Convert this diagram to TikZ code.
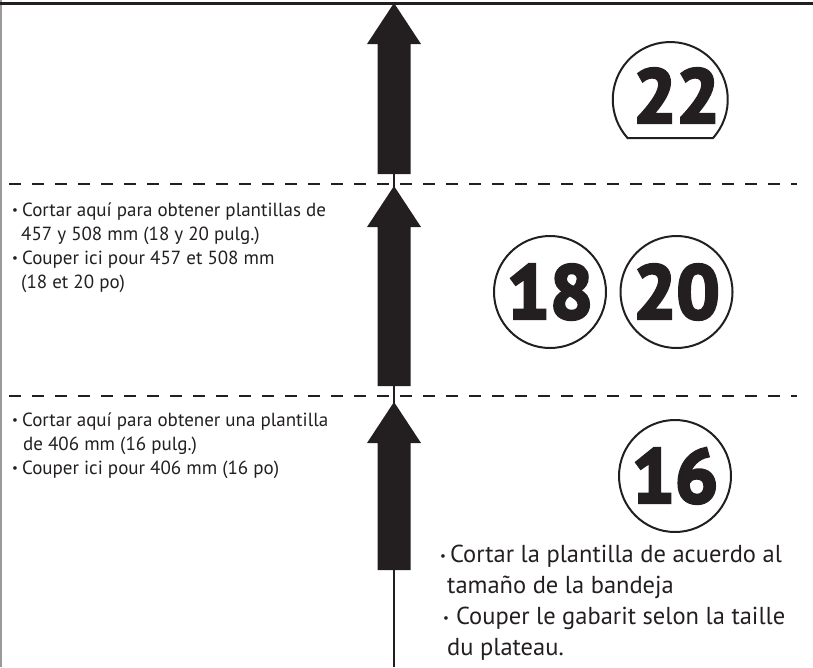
\documentclass[tikz,border=0pt]{standalone}
\usepackage{fontspec}
\setmainfont{PT Sans}
\newfontfamily\numfont{PT Sans}[UprightFont={* Bold}, FakeBold=4]
\definecolor{ink}{HTML}{231F20}
\definecolor{edge}{HTML}{9A9A9A}
\newcommand{\bul}{\raisebox{0.1em}{\fontsize{13}{13}\selectfont\textbullet}}

\begin{document}
\begin{tikzpicture}[x=1pt,y=-1pt,
    numcircle/.style={circle, draw=ink, line width=2pt, minimum size=112pt, inner sep=0pt, text=ink, font=\fontsize{76}{76}\numfont},
    cutline/.style={draw=ink, line width=2pt, dash pattern=on 12pt off 11pt},
    smallnote/.style={anchor=north west, inner sep=0pt, align=left, text=ink, font=\fontsize{19}{24}\selectfont},
    bignote/.style={anchor=north west, inner sep=0pt, align=left, text=ink, font=\fontsize{24.5}{31}\selectfont}]
    \useasboundingbox (0,0) rectangle (813,667);

    % Bords de la feuille
    \draw[edge, line width=1.5pt] (1,0) -- (1,667);
    \draw[ink, line width=3pt] (0,3) -- (813,3);

    % Ligne centrale
    \draw[ink, line width=1.5pt] (394,174) -- (394,667);

    % Fleches (pointe, bas de la tige)
    \foreach \t/\b in {3/174, 186/386, 402/570}
        \fill[ink] (394,\t) -- (421,\t+41) -- (410.5,\t+41) -- (410.5,\b)
                   -- (377.5,\b) -- (377.5,\t+41) -- (367,\t+41) -- cycle;

    % Lignes de coupe
    \draw[cutline] (9,184) -- (797,184);
    \draw[cutline] (9,396) -- (797,396);

    % Tailles
    \node[numcircle, draw=none] (n22) at (676.5,95.5) {22};
    \draw[ink, line width=2pt] (713,138) arc[start angle=42, end angle=-222, radius=57.5] -- cycle;
    \node[numcircle] (n18) at (550,292) {18};
    \node[numcircle] (n20) at (676.5,292) {20};
    \node[numcircle] (n16) at (675,476) {16};

    % Textes
    \node[smallnote] (cut18) at (12,203) {\bul\hspace{4pt}Cortar aquí para obtener plantillas de\\
        \hspace*{9pt}457 y 508 mm (18 y 20 pulg.)\\
        \bul\hspace{4pt}Couper ici pour 457 et 508 mm\\
        \hspace*{9pt}(18 et 20 po)};
    \node[smallnote] (cut16) at (12,413) {\bul\hspace{4pt}Cortar aquí para obtener una plantilla\\
        \hspace*{11pt}de 406 mm (16 pulg.)\\
        \bul\hspace{4pt}Couper ici pour 406 mm (16 po)};
    \node[bignote] (cuttray) at (440,545) {\bul\hspace{4pt}Cortar la plantilla de acuerdo al\\
        \hspace*{7pt}tamaño de la bandeja\\
        \hspace*{3pt}\bul\hspace{7pt}Couper le gabarit selon la taille\\
        \hspace*{7pt}du plateau.};
\end{tikzpicture}
\end{document}
